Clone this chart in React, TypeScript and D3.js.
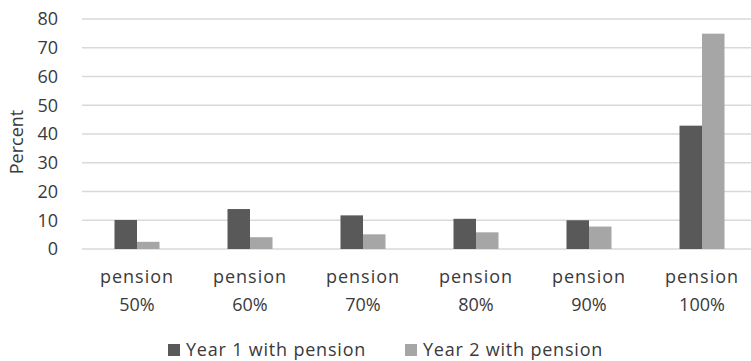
import React from "react";
import * as d3 from "d3";

const categories = ["pension\n50%", "pension\n60%", "pension\n70%", "pension\n80%", "pension\n90%", "pension\n100%"];
const year1 = [10.1, 13.9, 11.7, 10.5, 10.0, 42.9];
const year2 = [2.5, 4.1, 5.1, 5.8, 7.8, 74.9];
const seriesNames = ["Year 1 with pension", "Year 2 with pension"];
const yTicks = [0, 10, 20, 30, 40, 50, 60, 70, 80];

const W = 751;
const H = 361;
const FONT = "'Open Sans', sans-serif";
const colors = ["#595959", "#a6a6a6"];
const ink = "#3a3a3a";

export default function App() {
  const x = d3.scaleBand().domain(categories).range([80.5, 758.5]).paddingInner(0).paddingOuter(0);
  const y = d3.scaleLinear().domain([0, 80]).range([249, 19]);
  const barW = 22.5;
  const series = [year1, year2];

  return (
    <svg width={W} height={H} style={{ position: "absolute", left: 0, top: 0, background: "#fff" }} fontFamily={FONT}>
      {yTicks.map((t) => (
        <g key={t}>
          <line x1={82} x2={W} y1={y(t)} y2={y(t)} stroke="#d9d9d9" strokeWidth={1.5} />
          <text x={58} y={y(t)} dy="0.35em" textAnchor="end" fontSize={18} fill={ink}>{t}</text>
        </g>
      ))}
      <text transform={`translate(23,${(y(80) + y(0)) / 2 + 8}) rotate(-90)`} textAnchor="middle" fontSize={18} fill={ink}>Percent</text>
      {series.map((vals, si) =>
        vals.map((v, i) => {
          const cx = (x(categories[i]) as number) + x.bandwidth() / 2;
          return (
            <rect key={`${si}-${i}`} x={cx - barW + si * barW} y={y(v)} width={barW} height={y(0) - y(v)} fill={colors[si]} />
          );
        })
      )}
      {categories.map((c) => {
        const cx = (x(c) as number) + x.bandwidth() / 2;
        const [a, b] = c.split("\n");
        return (
          <g key={c}>
            <text x={cx} y={277} dy="0.35em" textAnchor="middle" fontSize={18} fill={ink} letterSpacing={1}>{a}</text>
            <text x={cx} y={305} dy="0.35em" textAnchor="middle" fontSize={18} fill={ink}>{b}</text>
          </g>
        );
      })}
      {seriesNames.map((n, i) => {
        const lx = [168, 405][i];
        return (
          <g key={n}>
            <rect x={lx} y={344} width={12} height={12} fill={colors[i]} />
            <text x={lx + 18} y={350} dy="0.35em" fontSize={18} fill={ink} letterSpacing={0.8}>{n}</text>
          </g>
        );
      })}
    </svg>
  );
}
